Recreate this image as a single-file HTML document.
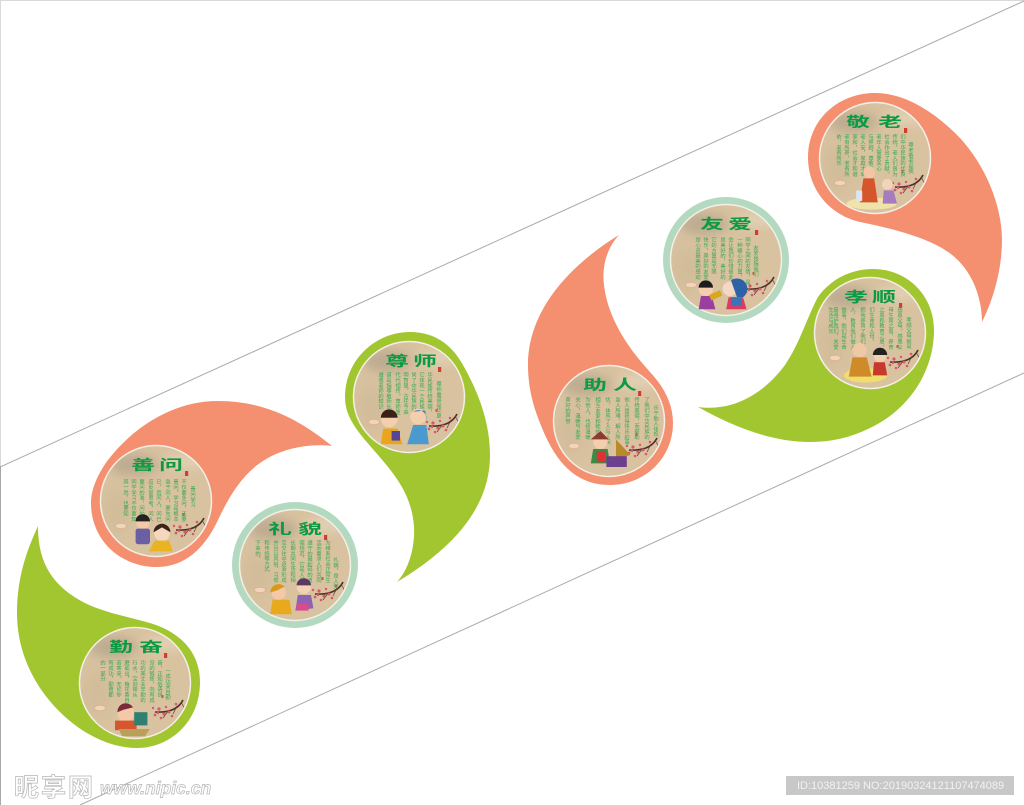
<!DOCTYPE html>
<html lang="zh">
<head>
<meta charset="utf-8">
<title>校园文化墙</title>
<style>
html,body{margin:0;padding:0;background:#fff;width:1024px;height:805px;overflow:hidden}
svg{display:block}
.t{font-family:"Liberation Sans","Noto Sans CJK SC",sans-serif;font-weight:700;font-size:17px;fill:#0c9a42;text-anchor:middle}
.c{font-family:"Liberation Sans","Noto Sans CJK SC",sans-serif;font-size:5.3px;fill:#37a94f;writing-mode:tb;glyph-orientation-vertical:0}
.wm{font-family:"Liberation Sans","Noto Sans CJK SC",sans-serif;font-weight:700;fill:#fff;stroke:#b5b5b5;stroke-width:.7}
</style>
</head>
<body>
<svg width="1024" height="805" viewBox="0 0 1024 805" xmlns="http://www.w3.org/2000/svg">
<defs>
<filter id="b" x="-50%" y="-50%" width="200%" height="200%"><feGaussianBlur stdDeviation="5"/></filter>
<clipPath id="cp"><circle r="55"/></clipPath>
<g id="art">
<circle r="55.5" fill="#d8c2a0"/>
<g clip-path="url(#cp)">
<ellipse cx="-22" cy="-36" rx="24" ry="11" fill="#b0a08a" opacity=".65" filter="url(#b)"/>
<ellipse cx="30" cy="-40" rx="22" ry="8" fill="#e5d5bb" opacity=".7" filter="url(#b)"/>
<ellipse cx="-38" cy="10" rx="14" ry="22" fill="#cfb997" opacity=".6" filter="url(#b)"/>
<ellipse cx="-35" cy="25" rx="5.500" ry="2.600" fill="#f0d5bb" stroke="#e2a183" stroke-width=".5"/>
<path d="M48,17 C44,25 36,30 20,29" fill="none" stroke="#4a3029" stroke-width="1.600"/>
<path d="M42,23 L38,31 M34,27 L28,35 M46,19 L50,26" stroke="#5f3a30" stroke-width=".7" fill="none"/>
<g fill="#d8596a">
<circle cx="24" cy="26" r="1.600"/><circle cx="20" cy="32" r="1.400"/><circle cx="29" cy="31" r="1.600"/><circle cx="26" cy="35" r="1.300"/><circle cx="34" cy="29" r="1.500"/><circle cx="37" cy="33" r="1.300"/><circle cx="18" cy="25" r="1.200"/><circle cx="41" cy="21" r="1.300"/><circle cx="31" cy="24" r="1.200"/><circle cx="23" cy="30" r="1.200"/>
</g>
</g>
<circle r="55.5" fill="none" stroke="#f4efe6" stroke-width="1.500"/>
<rect x="29" y="-30" width="3.200" height="5" fill="#cf3e2e"/>
<rect x="26.500" y="12" width="2" height="3" fill="#cf3e2e" opacity=".8"/>
</g>
</defs>
<rect width="1024" height="805" fill="#fff"/>
<path d="M0,.5H1024" stroke="#d9d9d9" fill="none"/>
<path d="M.5,0V466" stroke="#d9d9d9" fill="none"/>
<path d="M.5,466V805" stroke="#a8a8a8" fill="none"/>
<path d="M0,467L1024,1" stroke="#a9a9a9" fill="none"/>
<path d="M80,805L1024,373" stroke="#a9a9a9" fill="none"/>

<path fill="#a2c62f" d="M38,526 C38,560 50,585 85,603 C105,613 130,617 150,623 C180,632 200,652 200,682 C200,722 170,748 137,748 C105,748 70,728 45,695 C25,668 17,640 17,613 C17,575 28,548 38,526Z"/>
<path fill="#f48f70" d="M332,446 C300,420 265,401 218,401 C175,401 135,425 108,460 C97,475 91,490 91,503 C91,540 120,567 157,567 C185,567 205,548 218,520 C232,490 248,466 276,454 C295,446 315,444 332,446Z"/>
<path fill="#a2c62f" d="M397,582 C410,568 415,545 414,527 C412,495 395,475 378,455 C358,432 345,418 345,397 C345,360 375,332 410,332 C435,332 452,345 463,365 C480,395 490,425 490,455 C490,510 450,550 397,582Z"/>
<path fill="#f48f70" d="M619,235 C605,250 602,270 604,285 C608,320 630,350 650,372 C665,388 673,405 673,423 C673,458 645,485 610,485 C580,485 560,468 545,435 C535,412 528,392 528,365 C528,310 570,265 619,235Z"/>
<path fill="#f48f70" d="M982,322 C982,295 970,265 945,250 C925,237 890,228 860,222 C830,215 808,190 808,157 C808,120 838,93 875,93 C905,93 935,112 960,138 C985,165 1002,205 1002,240 C1002,270 993,300 982,322Z"/>
<path fill="#a2c62f" d="M698,407 C735,412 765,392 785,365 C800,343 808,315 818,297 C830,280 850,269 873,269 C908,269 934,296 934,330 C934,375 905,412 870,428 C850,438 830,442 810,442 C770,442 730,425 698,407Z"/>
<circle cx="295" cy="565" r="63" fill="#b4d9c1"/>
<circle cx="726" cy="260" r="63" fill="#b4d9c1"/>

<!-- 勤奋 -->
<g transform="translate(135,683)">
<use href="#art"/>
<text class="t" transform="translate(-14,-31) scale(1.4,.85)">勤</text>
<text class="t" transform="translate(16,-31) scale(1.4,.85)">奋</text>
<text class="c" x="32" y="-15">一成功来自勤</text><text class="c" x="24" y="-23">奋，正如俗语说</text>
<text class="c" x="16" y="-23">没的锻炼，向有成</text><text class="c" x="7" y="-23">功的美丈夫辛勤的</text>
<text class="c" x="-1" y="-23">行水，宝剑锋从</text><text class="c" x="-9" y="-23">磨砺出，梅花香自</text>
<text class="c" x="-17" y="-23">苦寒来。无论你</text><text class="c" x="-25" y="-23">有成功，勤奋都</text>
<text class="c" x="-33" y="-23">的一部分</text>
<g transform="translate(-2,40) scale(1.2) translate(2,-40)">
<circle cx="-8" cy="32" r="7" fill="#f3c9a8"/><path d="M-15,31 A7,7 0 0 1 -2,27 L-10,29Z" fill="#7b2c3a"/>
<rect x="-17" y="38" width="18" height="8" fill="#d8562f"/><rect x="-1" y="31" width="11" height="11" fill="#2f7f72"/><path d="M-14,45H12L8,51H-11Z" fill="#b9a05a"/>
</g>
</g>
<!-- 善问 -->
<g transform="translate(156,501)">
<use href="#art"/>
<text class="t" transform="translate(-13,-31) scale(1.4,.85)">善</text>
<text class="t" transform="translate(15,-31) scale(1.4,.85)">问</text>
<text class="c" x="36" y="-15">善问学习</text><text class="c" x="27" y="-22">不仅要多问，还要</text>
<text class="c" x="19" y="-22">善问。学习是根本</text><text class="c" x="11" y="-22">急于问人，要先问</text>
<text class="c" x="2" y="-22">已，后问人，问已</text><text class="c" x="-6" y="-22">应反复思考，问人</text>
<text class="c" x="-15" y="-22">要问的准，问的深</text><text class="c" x="-23" y="-22">同学学习不仅要知</text>
<text class="c" x="-31" y="-22">其一然，也要知</text>
<g transform="translate(0,42) scale(1.2) translate(0,-42)">
<circle cx="-11" cy="25" r="5.500" fill="#f3c9a8"/><path d="M-17,24 A6,6 0 0 1 -5,24Z" fill="#222"/><rect x="-17" y="30" width="12" height="13" rx="2" fill="#6a5fa5"/>
<circle cx="5" cy="34" r="6.500" fill="#f5d7bd"/><path d="M-2,33 A7,7 0 0 1 12,33 L5,29Z" fill="#3a2317"/><path d="M-6,49 L-1,40 H11 L14,49Z" fill="#eab321"/>
</g>
</g>
<!-- 礼貌 -->
<g transform="translate(295,565)">
<use href="#art"/>
<text class="t" transform="translate(-15,-31) scale(1.4,.85)">礼</text>
<text class="t" transform="translate(15,-31) scale(1.4,.85)">貌</text>
<text class="c" x="40" y="-8">礼貌，是人类</text><text class="c" x="32" y="-25">为维系社会正常生</text>
<text class="c" x="23" y="-25">活而要求人们共同</text><text class="c" x="14" y="-25">遵守的最起码的道</text>
<text class="c" x="6" y="-25">德规范，它是人们</text><text class="c" x="-3" y="-25">长期共同生活和相</text>
<text class="c" x="-12" y="-25">互交往中逐渐形成</text><text class="c" x="-20" y="-25">并且以风俗、习惯</text>
<text class="c" x="-29" y="-25">和传统等方式</text><text class="c" x="-38" y="-25">下来的。</text>
<g transform="translate(-2,42) scale(1.2) translate(2,-42)">
<circle cx="-14" cy="30" r="6" fill="#f3c9a8"/><path d="M-21,30 A7,7 0 0 1 -9,25 L-15,28Z" fill="#d89a1c"/><path d="M-21,48 L-19,36 H-5 L-3,48Z" fill="#e9a91c"/>
<circle cx="7" cy="25" r="6" fill="#f3d2b8"/><path d="M1,24 A6,6 0 0 1 13,24Z" fill="#5b3a5f"/><path d="M0,45 L2,32 H13 L15,43Z" fill="#8f62b3"/><rect x="1" y="39" width="10" height="6" fill="#d84c8e"/>
</g>
</g>
<!-- 尊师 -->
<g transform="translate(409,397)">
<use href="#art"/>
<text class="t" transform="translate(-12,-31) scale(1.4,.85)">尊</text>
<text class="t" transform="translate(16,-31) scale(1.4,.85)">师</text>
<text class="c" x="29" y="-16">尊师重道是华夏</text><text class="c" x="20" y="-25">华民族传统美德，</text>
<text class="c" x="12" y="-25">它体现一个民族崇</text><text class="c" x="4" y="-25">尚了中华民族的聪</text>
<text class="c" x="-4" y="-25">明智慧。古往今来</text><text class="c" x="-12" y="-25">代代相传。尊师重</text>
<text class="c" x="-21" y="-25">道是指尊敬师长，</text><text class="c" x="-29" y="-25">遵循老师的知识</text>
<g transform="translate(-3,40) scale(1.2) translate(3,-40)">
<circle cx="-17" cy="25" r="7" fill="#f3cfae"/><path d="M-24,24 A7,7 0 0 1 -10,24Z" fill="#3a2018"/><path d="M-24,46 L-22,33 H-10 L-6,46Z" fill="#eaa51d"/><rect x="-15" y="35" width="7" height="8" fill="#54479a"/>
<circle cx="7" cy="23" r="6.500" fill="#f3cfae"/><path d="M3,19 A7,7 0 0 1 14,26 L13,18Z" fill="#3f83b8"/><path d="M-2,46 L3,30 H14 L16,46Z" fill="#4a9ad0"/>
</g>
</g>
<!-- 助人 -->
<g transform="translate(609,421)">
<use href="#art"/>
<text class="t" transform="translate(-14,-31) scale(1.4,.85)">助</text>
<text class="t" transform="translate(16,-31) scale(1.4,.85)">人</text>
<text class="c" x="46" y="-16">乐于助人体现</text><text class="c" x="37" y="-24">了我们中华民族的</text>
<text class="c" x="27" y="-24">传统美德，而帮助</text><text class="c" x="17" y="-24">他人是获得快乐的事</text>
<text class="c" x="8" y="-24">急人所难，解人所</text><text class="c" x="-2" y="-24">忧，体现了人与人间</text>
<text class="c" x="-12" y="-24">相互友爱和睦的</text><text class="c" x="-22" y="-24">为他人，也给温暖</text>
<text class="c" x="-32" y="-24">关心，温暖与友爱</text><text class="c" x="-42" y="-24">美好的声誉</text>
<g transform="translate(1,40) scale(1.2) translate(-1,-40)">
<circle cx="-7" cy="24" r="6" fill="#f3cfae"/><path d="M-15,22 L-7,15 L0,22Z" fill="#8a3a30"/><path d="M-15,42 L-13,30 H-1 L1,42Z" fill="#3d8a45"/><rect x="-10" y="32" width="7" height="9" fill="#d33"/>
<path d="M6,22 L18,35 L6,38Z" fill="#b98a2a"/><rect x="-2" y="36" width="17" height="9" fill="#6c3f8f"/>
</g>
</g>
<!-- 友爱 -->
<g transform="translate(726,260)">
<use href="#art"/>
<text class="t" transform="translate(-14,-31) scale(1.4,.85)">友</text>
<text class="t" transform="translate(14,-31) scale(1.4,.85)">爱</text>
<text class="c" x="29" y="-15">友爱是指我们</text><text class="c" x="21" y="-23">同学之间的友情，是</text>
<text class="c" x="13" y="-23">一种暖心的力量，</text><text class="c" x="4" y="-23">会让我们珍惜彼此</text>
<text class="c" x="-4" y="-23">是美好的，美好的</text><text class="c" x="-13" y="-23">它的方量是无限</text>
<text class="c" x="-21" y="-23">快乐，美好的友爱</text><text class="c" x="-29" y="-23">是心灵最美的感动</text>
<g transform="translate(-1,42) scale(1.2) translate(1,-42)">
<circle cx="-17" cy="31" r="6" fill="#f3cfae"/><path d="M-23,30 A6,6 0 0 1 -11,30Z" fill="#1d1d1d"/><path d="M-23,48 L-21,37 H-12 L-9,48Z" fill="#9a3ea0"/><rect x="-14" y="34" width="10" height="5" fill="#d8a71d" transform="rotate(-25 -9 36)"/>
<circle cx="3" cy="31" r="6" fill="#f3d8c4"/><path d="M4,24 A8,8 0 0 1 14,38 L9,38Z" fill="#2c62a8"/><path d="M0,48 L2,38 H14 L17,48Z" fill="#d93d63"/><rect x="4" y="38" width="9" height="7" fill="#3876b8"/>
</g>
</g>
<!-- 敬老 -->
<g transform="translate(875,158)">
<use href="#art"/>
<text class="t" transform="translate(-17,-31) scale(1.4,.85)">敬</text>
<text class="t" transform="translate(15,-31) scale(1.4,.85)">老</text>
<text class="c" x="35" y="-16">尊老敬老是我</text><text class="c" x="27" y="-24">们中华民族的优良</text>
<text class="c" x="19" y="-24">传统，老人们曾为</text><text class="c" x="11" y="-24">社会作出了贡献。</text>
<text class="c" x="3" y="-24">老年人需要关心</text><text class="c" x="-5" y="-24">与照顾，尊敬老人</text>
<text class="c" x="-13" y="-24">老人安，家庭才幸</text><text class="c" x="-21" y="-24">家和，社会才和谐</text>
<text class="c" x="-29" y="-24">老有所养，老有所</text><text class="c" x="-37" y="-24">依，老有所乐</text>
<g transform="translate(-2,42) scale(1.2) translate(2,-42)">
<ellipse cx="-3" cy="45" rx="21" ry="5" fill="#efe3a9"/>
<circle cx="-5" cy="19" r="5" fill="#f2c6a4"/><path d="M-13,44 L-10,24 H-1 L2,44Z" fill="#d6562c"/><rect x="-16" y="34" width="5" height="9" rx="1" fill="#dce6f2"/>
<circle cx="10" cy="29" r="4.500" fill="#f3d4bb"/><path d="M6,45 L7,34 H15 L18,45Z" fill="#a67bc0"/>
</g>
</g>
<!-- 孝顺 -->
<g transform="translate(870,333)">
<use href="#art"/>
<text class="t" transform="translate(-14,-31) scale(1.4,.85)">孝</text>
<text class="t" transform="translate(14,-31) scale(1.4,.85)">顺</text>
<text class="c" x="38" y="-16">孝顺父母就是</text><text class="c" x="29" y="-26">感恩父母。感恩父</text>
<text class="c" x="20" y="-26">母生育之恩，养育</text><text class="c" x="11" y="-26">之恩和教育之恩。</text>
<text class="c" x="1" y="-26">们生命和人母，</text><text class="c" x="-8" y="-26">把我养育了我们成</text>
<text class="c" x="-18" y="-26">人，教育我们做人</text><text class="c" x="-27" y="-26">做事，他们是生命</text>
<text class="c" x="-35" y="-26">最强护我们，关爱</text><text class="c" x="-40" y="-26">生活与成长</text>
<g transform="translate(-2,40) scale(1.2) translate(2,-40)">
<ellipse cx="-4" cy="42" rx="18" ry="6" fill="#f1dc6e"/>
<circle cx="-9" cy="21" r="6" fill="#f0c8a5"/><path d="M-18,43 L-15,27 H-3 L1,43Z" fill="#cf8a2a"/>
<circle cx="8" cy="26" r="5" fill="#f3cfae"/><path d="M2,25 A6,6 0 0 1 14,25Z" fill="#222"/><path d="M2,42 L3,31 H12 L14,42Z" fill="#c9382d"/>
</g>
</g>

<text class="wm" x="14" y="796" font-size="25" letter-spacing="2">昵享网</text>
<text class="wm" x="100" y="794" font-size="17.500" font-style="italic" stroke-width=".5">www.nipic.cn</text>
<rect x="786" y="776" width="228" height="19" fill="#c8c8c8"/>
<text x="797" y="789" font-family="Liberation Sans, sans-serif" font-size="11" fill="#f2f2f2">ID:10381259 NO:20190324121107474089</text>
</svg>
</body>
</html>
